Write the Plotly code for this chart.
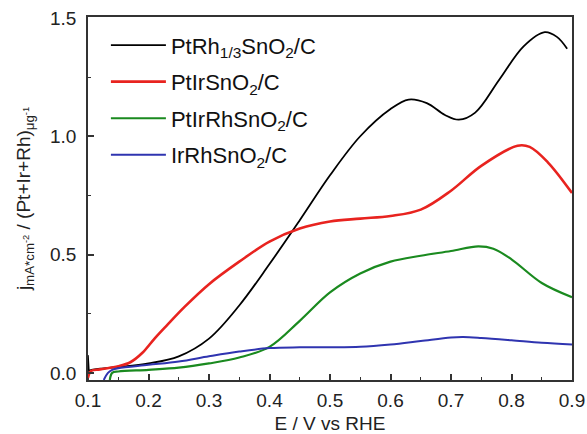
import plotly.graph_objects as go

# ---- data ----
black_x = [0.101, 0.105, 0.12, 0.15, 0.20, 0.25, 0.30, 0.35, 0.40, 0.45, 0.50, 0.55, 0.60, 0.63, 0.66, 0.69, 0.713, 0.74, 0.78, 0.82, 0.855, 0.875, 0.892]
black_y = [0.01, 0.012, 0.018, 0.025, 0.04, 0.07, 0.145, 0.285, 0.46, 0.645, 0.835, 1.0, 1.115, 1.155, 1.14, 1.09, 1.07, 1.10, 1.24, 1.38, 1.44, 1.42, 1.37]
black_spike_x = [0.1, 0.1, 0.1015]
black_spike_y = [-0.03, 0.075, 0.01]

red_x = [0.1, 0.105, 0.12, 0.15, 0.17, 0.19, 0.21, 0.23, 0.26, 0.30, 0.35, 0.40, 0.45, 0.50, 0.55, 0.60, 0.65, 0.70, 0.75, 0.81, 0.83, 0.86, 0.90]
red_y = [-0.02, 0.008, 0.015, 0.028, 0.045, 0.085, 0.145, 0.20, 0.28, 0.375, 0.47, 0.555, 0.61, 0.64, 0.652, 0.663, 0.69, 0.77, 0.875, 0.96, 0.955, 0.89, 0.76]

green_x = [0.136, 0.14, 0.15, 0.20, 0.25, 0.30, 0.35, 0.40, 0.45, 0.50, 0.55, 0.60, 0.65, 0.70, 0.745, 0.77, 0.80, 0.85, 0.90]
green_y = [-0.03, 0.0, 0.006, 0.013, 0.022, 0.04, 0.065, 0.11, 0.22, 0.34, 0.42, 0.47, 0.495, 0.515, 0.535, 0.525, 0.48, 0.38, 0.32]

blue_x = [0.126, 0.133, 0.14, 0.15, 0.20, 0.25, 0.30, 0.35, 0.40, 0.45, 0.50, 0.55, 0.60, 0.65, 0.70, 0.72, 0.75, 0.80, 0.85, 0.90]
blue_y = [-0.03, 0.0, 0.013, 0.02, 0.034, 0.048, 0.07, 0.09, 0.105, 0.108, 0.108, 0.11, 0.12, 0.135, 0.15, 0.152, 0.148, 0.138, 0.127, 0.12]

names = ["PtRh<sub>1/3</sub>SnO<sub>2</sub>/C", "PtIrSnO<sub>2</sub>/C",
         "PtIrRhSnO<sub>2</sub>/C", "IrRhSnO<sub>2</sub>/C"]
colors = ["#000000", "#e8231f", "#1a8a1f", "#2f34b0"]

x_ticks = [0.1, 0.2, 0.3, 0.4, 0.5, 0.6, 0.7, 0.8, 0.9]
x_tick_labels = ["0.1", "0.2", "0.3", "0.4", "0.5", "0.6", "0.7", "0.8", "0.9"]
y_ticks = [0.0, 0.5, 1.0, 1.5]
y_tick_labels = ["0.0", "0.5", "1.0", "1.5"]

fig = go.Figure()
fig.add_trace(go.Scatter(x=black_spike_x, y=black_spike_y, mode="lines",
                         line=dict(color=colors[0], width=1.5), showlegend=False, hoverinfo="skip"))
series = [(black_x, black_y, 1.8), (red_x, red_y, 2.6), (green_x, green_y, 2.2), (blue_x, blue_y, 2.0)]
for i, (xs, ys, w) in enumerate(series):
    fig.add_trace(go.Scatter(x=xs, y=ys, mode="lines", name=names[i],
                             line=dict(color=colors[i], width=w, shape="spline", smoothing=1.0),
                             legendgroup=str(i)))

axis_common = dict(showline=True, linecolor="#333333", linewidth=1.5, mirror=True,
                   ticks="inside", ticklen=6, tickwidth=1.5, tickcolor="#333333",
                   showgrid=False, zeroline=False, automargin=False,
                   tickfont=dict(family="Liberation Sans, Arial", size=19, color="#222222"))

fig.update_xaxes(range=[0.1, 0.9], tickvals=x_ticks, ticktext=x_tick_labels,
                 minor=dict(dtick=0.05, tick0=0.05, ticks="inside", ticklen=3.5, tickwidth=1.2, tickcolor="#333333"),
                 title=dict(text="E / V vs RHE", font=dict(family="Liberation Sans, Arial", size=19, color="#222222"), standoff=14),
                 ticklabelstandoff=2,
                 **axis_common)
fig.update_yaxes(range=[-0.03, 1.504], tickvals=y_ticks, ticktext=y_tick_labels,
                 minor=dict(dtick=0.25, tick0=0, ticks="inside", ticklen=3.5, tickwidth=1.2, tickcolor="#333333"),
                 title=dict(text="j<sub>mA*cm<sup>-2</sup></sub> / (Pt+Ir+Rh)<sub>μg<sup>-1</sup></sub>",
                            font=dict(family="Liberation Sans, Arial", size=19, color="#222222"), standoff=14),
                 ticklabelstandoff=6,
                 **axis_common)

fig.update_layout(
    width=587, height=434,
    margin=dict(l=88, r=15, t=17, b=54, autoexpand=False),
    paper_bgcolor="white", plot_bgcolor="white",
    legend=dict(x=0.037, y=0.98, xanchor="left", yanchor="top",
                font=dict(family="Liberation Sans, Arial", size=22, color="#111111"),
                bgcolor="rgba(0,0,0,0)", traceorder="grouped", tracegroupgap=5,
                itemwidth=55),
)

fig.write_html("out.html", config={"displayModeBar": False},
               post_script="document.body.style.margin='0';document.body.style.overflow='hidden';")
